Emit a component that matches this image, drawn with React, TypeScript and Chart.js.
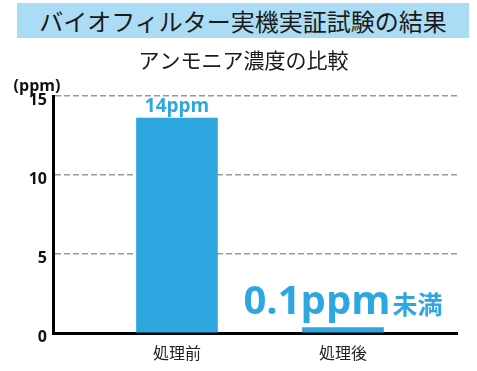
import React, { useEffect, useRef } from "react";
import { Chart, registerables } from "chart.js";

Chart.register(...registerables);

const titleText = "バイオフィルター実機実証試験の結果";
const subtitleText = "アンモニア濃度の比較";
const unitText = "(ppm)";
const categories = ["処理前", "処理後"];
const values = [13.6, 0.35];
const valueLabels = ["14ppm", "0.1ppm"];
const valueSuffixes = ["", "未満"];
const yTicks = [0, 5, 10, 15];

const BLUE = "#2ea7e0";
const FONT = "'Open Sans', 'Noto Sans CJK JP', sans-serif";
const CJK = "'Noto Sans CJK JP', 'Open Sans', sans-serif";

const labelPlugin = {
  id: "labels",
  afterDatasetsDraw(chart: any) {
    const ctx = chart.ctx;
    const meta = chart.getDatasetMeta(0);
    ctx.save();
    ctx.fillStyle = BLUE;
    ctx.textBaseline = "alphabetic";
    meta.data.forEach((bar: any, i: number) => {
      if (i === 0) {
        ctx.font = `bold 19px ${FONT}`;
        ctx.textAlign = "center";
        ctx.fillText(valueLabels[i], bar.x, bar.y - 6);
      } else {
        ctx.font = `bold 40px ${FONT}`;
        const w1 = ctx.measureText(valueLabels[i]).width;
        ctx.font = `bold 25px ${CJK}`;
        const w2 = ctx.measureText(valueSuffixes[i]).width;
        const gap = 2;
        const total = w1 + gap + w2;
        const left = bar.x - total / 2;
        const base = bar.y - 13;
        ctx.textAlign = "left";
        ctx.font = `bold 40px ${FONT}`;
        ctx.fillText(valueLabels[i], left, base);
        ctx.font = `bold 25px ${CJK}`;
        ctx.fillText(valueSuffixes[i], left + w1 + gap, base);
      }
    });
    ctx.restore();
  },
  afterDraw(chart: any) {
    const ctx = chart.ctx;
    ctx.save();
    ctx.fillStyle = "#1a1a1a";
    ctx.textAlign = "center";
    ctx.textBaseline = "middle";
    ctx.font = `21px ${CJK}`;
    ctx.fillText(subtitleText, 243.5, 60);
    ctx.fillStyle = "#111";
    ctx.font = `bold 16px ${FONT}`;
    ctx.fillText(unitText, 37, 86);
    ctx.restore();
  },
};

export default function App() {
  const ref = useRef<HTMLCanvasElement>(null);
  useEffect(() => {
    if (!ref.current) return;
    const chart = new Chart(ref.current, {
      type: "bar",
      data: {
        datasets: [
          {
            data: values.map((v, i) => ({ x: i, y: v })),
            backgroundColor: BLUE,
            barThickness: 81,
            borderWidth: 0,
          },
        ],
      },
      options: {
        animation: false,
        responsive: false,
        maintainAspectRatio: false,
        layout: { padding: { top: 96, right: 20, left: 0, bottom: 0 } },
        plugins: {
          legend: { display: false },
          tooltip: { enabled: false },
          title: { display: false },
        },
        scales: {
          x: {
            type: "linear",
            offset: false,
            min: -0.747,
            max: 1.687,
            afterFit(scale: any) {
              scale.height = 38;
            },
            afterBuildTicks(scale: any) {
              scale.ticks = categories.map((_, i) => ({ value: i }));
            },
            grid: { display: false, drawTicks: false },
            border: { display: true, color: "#000", width: 3 },
            ticks: {
              callback: (v: any) => categories[v as number] ?? "",
              color: "#222",
              font: { family: CJK, size: 16 },
              padding: 10,
              maxRotation: 0,
              autoSkip: false,
            },
          },
          y: {
            min: 0,
            max: 15,
            afterFit(scale: any) {
              scale.width = 53;
            },
            afterBuildTicks(scale: any) {
              scale.ticks = yTicks.map((v) => ({ value: v }));
            },
            grid: {
              drawTicks: false,
              color: (c: any) => (c.tick && c.tick.value === 0 ? "rgba(0,0,0,0)" : "#999"),
              lineWidth: 1.5,
            },
            border: { display: true, color: "#000", width: 3, dash: [6, 3] },
            ticks: {
              color: "#111",
              font: { family: FONT, size: 16, weight: "bold" },
              padding: 6,
              labelOffset: 4,
            },
          },
        },
      },
      plugins: [labelPlugin],
    } as any);
    return () => chart.destroy();
  }, []);

  return (
    <div style={{ position: "absolute", left: 0, top: 0, width: 477, height: 371, background: "#fff" }}>
      <canvas
        ref={ref}
        width={477}
        height={371}
        style={{ position: "absolute", left: 0, top: 0, width: 477, height: 371 }}
      />
      <div
        style={{
          position: "absolute",
          left: 17,
          top: 3,
          width: 452,
          height: 35,
          background: "#abdcf5",
          color: "#1a1a1a",
          fontFamily: CJK,
          fontSize: 24,
          lineHeight: "35px",
          textAlign: "center",
          whiteSpace: "nowrap",
        }}
      >
        {titleText}
      </div>
    </div>
  );
}
